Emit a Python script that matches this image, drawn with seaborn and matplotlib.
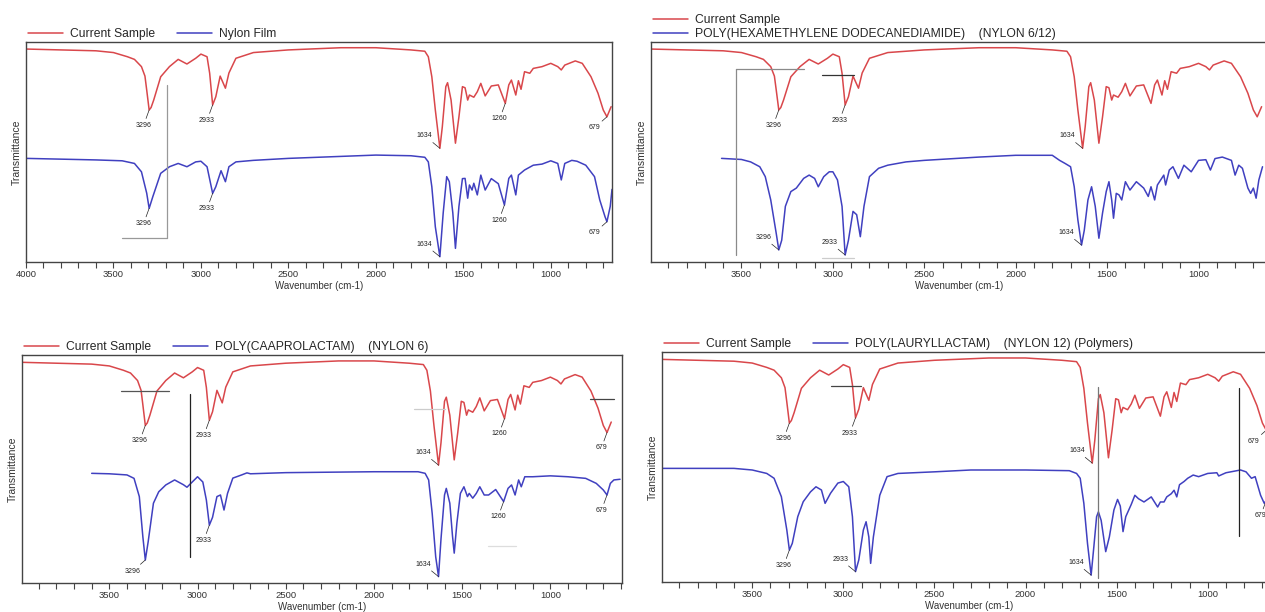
import matplotlib
matplotlib.use("Agg")
import matplotlib.pyplot as plt
import seaborn as sns
import numpy as np
from matplotlib.ticker import MultipleLocator

# ---- data (wavenumber cm-1, transmittance in arbitrary %T units) ----
sample_wn = [4000, 3800, 3600, 3500, 3420, 3380, 3340, 3320, 3310, 3296, 3285, 3270,
             3230, 3180, 3130, 3080, 3030, 3000, 2965, 2950, 2933, 2915,
             2890, 2860, 2840, 2800, 2700, 2500, 2200, 2000, 1800, 1720,
             1700, 1680, 1660, 1634, 1620, 1600, 1590, 1570, 1545, 1525,
             1505, 1490, 1475, 1465, 1440, 1420, 1400, 1375, 1340, 1300,
             1260, 1240, 1225, 1200, 1185, 1170, 1150, 1120, 1100, 1050,
             1000, 960, 940, 920, 860, 820, 770, 730, 700, 679, 655]
sample_t = [96.8, 96.4, 96.0, 95.2, 93.3, 92.1, 88.8, 84.5, 78.2, 69.1, 70.2, 73.6,
            84.2, 88.8, 92.1, 90.0, 92.6, 94.5, 93.3, 85.8, 71.4, 75.1,
            84.5, 79.0, 85.9, 92.6, 95.2, 96.4, 97.4, 97.4, 96.4, 95.8,
            93.3, 84.2, 69.1, 51.7, 61.5, 79.7, 81.5, 73.6, 54.0, 66.0,
            79.7, 79.2, 73.6, 75.9, 74.9, 77.4, 81.2, 75.5, 80.0, 80.5,
            72.1, 80.5, 82.7, 75.9, 82.4, 78.5, 86.5, 85.8, 88.0, 88.8,
            90.3, 88.8, 87.3, 89.5, 91.4, 90.3, 84.2, 76.7, 69.1, 66.0, 70.6]

film_wn = [4000, 3600, 3450, 3380, 3340, 3310, 3296, 3275, 3230, 3180,
           3130, 3080, 3030, 3000, 2965, 2933, 2915, 2885, 2860, 2840,
           2800, 2700, 2500, 2000, 1800, 1720, 1700, 1680, 1660, 1634,
           1615, 1595, 1580, 1560, 1545, 1525, 1505, 1490, 1475, 1465,
           1450, 1440, 1420, 1400, 1375, 1340, 1300, 1265, 1240, 1225,
           1200, 1185, 1150, 1100, 1050, 1000, 960, 940, 920, 880,
           850, 800, 750, 720, 690, 679, 660, 650]
film_t = [47.1, 46.4, 46.0, 44.8, 41.0, 31.3, 24.4, 29.7, 40.3, 43.3,
          44.8, 43.3, 45.5, 45.8, 43.3, 31.2, 34.2, 41.5, 36.5, 43.3,
          45.5, 46.2, 47.1, 48.6, 48.3, 47.6, 45.5, 34.2, 16.0, 2.4,
          22.3, 38.8, 36.5, 22.3, 6.2, 25.3, 37.9, 38.0, 29.0, 35.0,
          32.7, 35.8, 30.5, 39.5, 32.7, 37.9, 35.6, 25.9, 38.0, 39.5,
          30.5, 39.5, 41.8, 44.0, 44.5, 46.0, 44.8, 37.3, 44.8, 46.2,
          45.8, 44.0, 38.8, 28.2, 20.6, 18.3, 25.3, 33.0]

n612_wn = [3609, 3500, 3450, 3400, 3370, 3340, 3310, 3296, 3280, 3260,
           3230, 3200, 3160, 3130, 3100, 3080, 3050, 3020, 3000, 2975,
           2950, 2933, 2915, 2890, 2870, 2850, 2830, 2800, 2750, 2700,
           2600, 2500, 2200, 2000, 1800, 1760, 1730, 1700, 1680, 1660,
           1640, 1625, 1605, 1585, 1565, 1545, 1525, 1505, 1490, 1475,
           1465, 1450, 1435, 1420, 1400, 1375, 1340, 1300, 1275, 1260,
           1240, 1225, 1190, 1180, 1160, 1140, 1110, 1080, 1040, 1000,
           960, 935, 910, 870, 820, 800, 780, 760, 730, 715,
           700, 685, 670, 650]
n612_t = [47.1, 46.6, 45.5, 43.3, 38.8, 28.2, 13.0, 5.5, 9.9, 25.3,
          32.0, 33.6, 38.0, 39.5, 38.0, 34.2, 38.8, 41.0, 41.0, 37.3,
          25.3, 3.2, 9.9, 23.0, 21.5, 11.5, 25.3, 38.8, 42.6, 44.0,
          45.5, 46.2, 47.7, 48.5, 48.5, 46.2, 44.8, 43.3, 34.2, 19.1,
          7.7, 14.4, 28.2, 34.2, 25.3, 10.8, 22.3, 32.0, 36.5, 28.2,
          19.9, 31.2, 30.5, 28.2, 36.5, 32.7, 36.5, 33.6, 29.8, 34.2,
          28.2, 35.0, 39.5, 35.0, 41.8, 43.3, 38.0, 44.0, 41.0, 46.2,
          46.5, 41.8, 47.0, 47.7, 46.2, 39.5, 44.0, 42.6, 33.6, 31.2,
          33.6, 29.0, 37.3, 43.3]

n6_wn = [3600, 3500, 3400, 3360, 3330, 3310, 3296, 3280, 3250, 3220,
         3180, 3130, 3080, 3060, 3030, 3000, 2970, 2950, 2933, 2915,
         2890, 2870, 2850, 2830, 2800, 2750, 2720, 2700, 2500, 2000,
         1750, 1710, 1690, 1670, 1650, 1634, 1620, 1600, 1590, 1570,
         1555, 1545, 1530, 1510, 1490, 1470, 1460, 1440, 1420, 1400,
         1375, 1350, 1310, 1265, 1240, 1220, 1200, 1180, 1165, 1145,
         1100, 1000, 900, 800, 740, 700, 679, 660, 640, 605]
n6_t = [48.1, 47.9, 47.4, 45.9, 37.9, 20.3, 10.1, 18.0, 35.0, 40.0,
        43.0, 45.2, 43.1, 42.0, 44.3, 46.6, 44.3, 36.4, 25.4, 28.8,
        37.9, 38.6, 32.0, 39.3, 46.0, 47.4, 48.3, 47.9, 48.4, 48.8,
        48.8, 48.1, 45.2, 30.6, 11.5, 2.8, 19.3, 38.6, 41.5, 35.0,
        20.8, 13.1, 26.2, 39.3, 42.2, 37.9, 39.3, 37.2, 39.3, 42.2,
        38.6, 38.6, 41.0, 35.7, 41.5, 43.0, 38.6, 45.2, 42.2, 46.6,
        46.6, 47.0, 46.6, 45.9, 43.7, 40.8, 38.6, 43.7, 45.2, 45.5]

n12_wn = [4000, 3600, 3500, 3420, 3380, 3340, 3310, 3296, 3280, 3250,
          3220, 3180, 3150, 3120, 3100, 3070, 3030, 3000, 2970, 2950,
          2933, 2915, 2890, 2875, 2860, 2850, 2835, 2800, 2760, 2700,
          2500, 2300, 2000, 1760, 1720, 1700, 1680, 1660, 1640, 1625,
          1610, 1600, 1585, 1560, 1540, 1515, 1495, 1480, 1465, 1450,
          1420, 1400, 1380, 1350, 1310, 1275, 1260, 1240, 1225, 1200,
          1185, 1170, 1155, 1130, 1110, 1080, 1050, 1000, 950, 940,
          900, 820, 790, 760, 740, 710, 690, 679, 665, 655]
n12_t = [49.4, 49.4, 48.7, 47.2, 45.1, 37.1, 22.6, 13.9, 16.8, 28.4,
         34.9, 39.2, 41.4, 40.0, 34.2, 38.6, 43.0, 43.7, 41.4, 28.4,
         4.5, 9.6, 22.6, 26.2, 19.6, 8.1, 19.6, 37.7, 45.8, 47.2,
         47.9, 48.7, 48.7, 48.4, 47.2, 45.1, 34.2, 16.8, 3.0, 15.4,
         28.4, 30.5, 26.8, 13.2, 19.6, 31.3, 35.9, 33.0, 21.9, 28.4,
         33.7, 37.7, 36.2, 34.8, 37.0, 32.6, 34.8, 34.8, 37.0, 38.4,
         39.9, 37.0, 42.3, 43.7, 45.1, 46.5, 45.8, 47.2, 47.5, 46.1,
         47.5, 48.7, 47.9, 45.1, 45.8, 37.7, 34.2, 35.5, 39.9, 43.5]

ref_names = ["Nylon Film",
             "POLY(HEXAMETHYLENE DODECANEDIAMIDE)    (NYLON 6/12)",
             "POLY(CAAPROLACTAM)    (NYLON 6)",
             "POLY(LAURYLLACTAM)    (NYLON 12) (Polymers)"]

# peak labels: (wavenumber, placement) for sample / reference curve
sample_peaks = [
    [(3296, "b"), (2933, "b"), (1634, "ul"), (1260, "b"), (679, "bl")],
    [(3296, "b"), (2933, "b"), (1634, "ul")],
    [(3296, "b"), (2933, "b"), (1634, "ul"), (1260, "b"), (679, "b")],
    [(3296, "b"), (2933, "b"), (1634, "ul"), (679, "bl")],
]
ref_peaks = [
    [(3296, "b"), (2933, "b"), (1634, "ul"), (1260, "b"), (679, "bl")],
    [(3296, "ul"), (2933, "ul"), (1634, "ul")],
    [(3296, "bl"), (2933, "b"), (1634, "ul"), (1260, "b"), (679, "b")],
    [(3296, "b"), (2933, "ul"), (1634, "ul"), (679, "b")],
]

# stray guide strokes visible in the screenshot: (x0, x1, y0, y1, colour)
guides = [
    [(3195, 3195, 80.5, 10.9, "#999999"), (3453, 3195, 10.9, 10.9, "#999999")],
    [(3528, 3528, 87.7, 3.2, "#8a8a8a"), (3528, 3156, 87.7, 87.7, "#8a8a8a"),
     (3062, 2883, 85.0, 85.0, "#333333"), (3062, 2883, 1.8, 1.8, "#cccccc")],
    [(3436, 3164, 84.2, 84.2, "#555555"), (3040, 3040, 82.8, 11.5, "#222222"),
     (1771, 1600, 76.2, 76.2, "#cccccc"), (773, 637, 80.6, 80.6, "#444444"),
     (1356, 1197, 16.4, 16.4, "#dddddd")],
    [(3068, 2903, 85.4, 85.4, "#444444"), (1601, 1601, 84.9, 1.6, "#777777"),
     (828, 828, 84.2, 20.0, "#222222")],
]

# ---- styling ----
sns.set_style("white")
plt.rcParams["font.family"] = ["Liberation Sans", "DejaVu Sans"]

RED = "#d9474b"
BLUE = "#4040c0"
W, H = 1265, 612

# axes boxes in pixels: left, top, width, height ; x limits
boxes = [(26, 42, 586, 220), (651, 42, 617, 220), (22, 355, 600, 228), (662, 352, 615, 230)]
xlims = [(4000, 650), (3995, 620), (3995, 594), (3995, 620)]

offsets = {"b": (-4, -11), "ul": (-11, 9), "bl": (-9, -8)}

fig = plt.figure(figsize=(W / 100, H / 100), dpi=100)
ref_data = [(film_wn, film_t), (n612_wn, n612_t), (n6_wn, n6_t), (n12_wn, n12_t)]


def label_peaks(ax, wn, t, peaks):
    wn = np.asarray(wn)
    for p, place in peaks:
        i = int(np.argmin(np.abs(wn - p)))
        ax.annotate(str(p), xy=(wn[i], t[i]), xytext=offsets[place], textcoords="offset points",
                    ha="center", va="center", fontsize=5, color="#222222",
                    arrowprops=dict(arrowstyle="-", lw=0.5, color="#222222", shrinkA=0, shrinkB=0))


for k in range(4):
    l, t, w, h = boxes[k]
    ax = fig.add_axes([l / W, (H - t - h) / H, w / W, h / H])
    sns.lineplot(x=sample_wn, y=sample_t, ax=ax, color=RED, linewidth=1.1, estimator=None)
    rw, rt = ref_data[k]
    sns.lineplot(x=rw, y=rt, ax=ax, color=BLUE, linewidth=1.1, estimator=None)
    handles = ax.lines[:2]
    for x0, x1, y0, y1, c in guides[k]:
        ax.plot([x0, x1], [y0, y1], color=c, lw=0.9)

    label_peaks(ax, sample_wn, sample_t, sample_peaks[k])
    label_peaks(ax, rw, rt, ref_peaks[k])

    ax.set_xlim(*xlims[k])
    ax.set_ylim(0, 100)
    ax.set_yticks([])
    ax.xaxis.set_major_locator(MultipleLocator(500))
    ax.xaxis.set_minor_locator(MultipleLocator(100))
    ax.tick_params(axis="x", which="both", direction="out", length=4, width=0.8,
                   labelsize=6.8, pad=2, color="#444444", labelcolor="#333333", bottom=True)
    for s in ax.spines.values():
        s.set_color("#444444")
        s.set_linewidth(1.0)
    ax.set_xlabel("Wavenumber (cm-1)", fontsize=7, labelpad=1, color="#333333")
    ax.set_ylabel("Transmittance", fontsize=7.5, labelpad=3, color="#333333")

    ncol = 1 if k == 1 else 2
    ax.legend(handles, ["Current Sample", ref_names[k]], loc="lower left",
              bbox_to_anchor=(0, 1.0), ncol=ncol, frameon=False, fontsize=8.7,
              handlelength=2.9, handletextpad=0.6, columnspacing=1.8,
              borderaxespad=0.15, borderpad=0.0, labelspacing=0.2)

fig.savefig("out.png", dpi=100)
